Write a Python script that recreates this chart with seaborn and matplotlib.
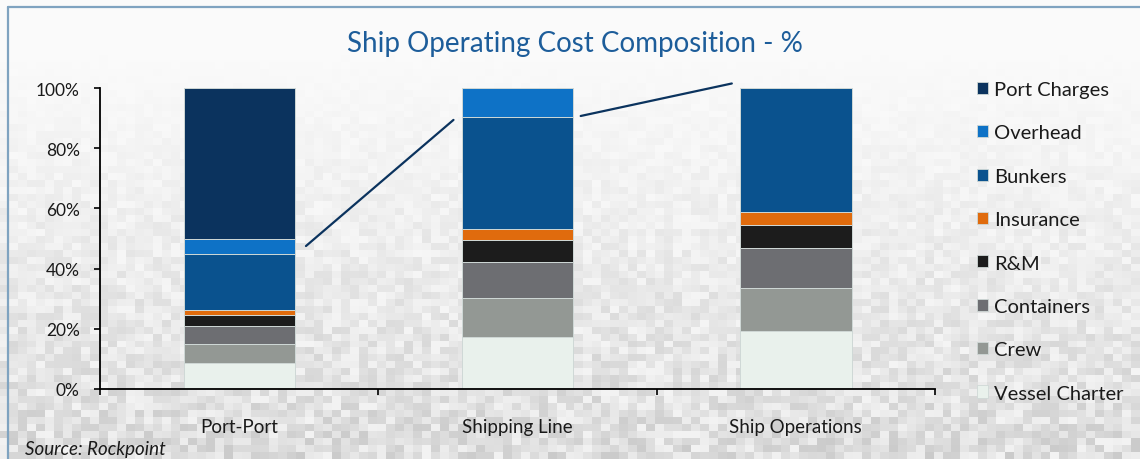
import numpy as np
import pandas as pd
import matplotlib
matplotlib.use("Agg")
import matplotlib.pyplot as plt
from matplotlib.patches import Patch
from matplotlib.lines import Line2D
import seaborn as sns

# ---- data -------------------------------------------------------------
categories = ["Port-Port", "Shipping Line", "Ship Operations"]
# stacked from the bottom up
components = ["Vessel Charter", "Crew", "Containers", "R&M",
              "Insurance", "Bunkers", "Overhead", "Port Charges"]
vessel_charter = [8.5, 17.3, 19.2]
crew = [6.5, 12.9, 14.4]
containers = [6.0, 12.1, 13.2]
r_and_m = [3.5, 7.1, 7.8]
insurance = [1.8, 3.7, 4.1]
bunkers = [18.7, 37.2, 41.3]
overhead = [5.0, 9.7, 0.0]
port_charges = [50.0, 0.0, 0.0]
y_ticks = [0, 20, 40, 60, 80, 100]
y_tick_labels = ["0%", "20%", "40%", "60%", "80%", "100%"]

series = [vessel_charter, crew, containers, r_and_m,
          insurance, bunkers, overhead, port_charges]
colors = ["#E9F1EC", "#939894", "#6D6E72", "#1C1C1C",
          "#E06B0D", "#0A528E", "#0E72C6", "#0B335E"]

df = pd.DataFrame({name: vals for name, vals in zip(components, series)},
                  index=categories)
df.index.name = "category"

# ---- styling ----------------------------------------------------------
sns.set_theme(style="white")
plt.rcParams["font.family"] = ["Lato", "DejaVu Sans"]

W, H = 1140, 460
fig = plt.figure(figsize=(W / 100, H / 100), dpi=100)

# textured backdrop: white at the top, mottled grey toward the bottom
bg = fig.add_axes([0, 0, 1, 1], zorder=-10)
cell_w, cell_h = 9, 7
ny, nx = H // cell_h + 1, W // cell_w + 1
jj, ii = np.meshgrid(np.arange(nx), np.arange(ny))
h = (np.sin(ii * 12.9898 + jj * 78.233) * 43758.5453) % 1.0
t = np.clip((ii * cell_h - 50) / 400.0, 0, 1)
val = 0.982 - 0.03 * t - 0.16 * t ** 1.15 * h
img = np.dstack([val, val, val])
bg.imshow(img, extent=[0, W, H, 0], interpolation="nearest", aspect="auto")
bg.set_xlim(0, W)
bg.set_ylim(H, 0)
bg.axis("off")

ax = fig.add_axes([100 / W, 1 - 390 / H, 835 / W, 301 / H])
ax.patch.set_alpha(0)

bottoms = np.zeros(len(categories))
for name, color in zip(components, colors):
    vals = df[name].to_numpy()
    sns.barplot(x=df.index, y=vals, order=categories, color=color,
                width=0.4, bottom=bottoms, edgecolor="#cfd8d6",
                linewidth=0.7, ax=ax, saturation=1)
    bottoms = bottoms + vals

ax.set_xlim(-0.5, 2.5)
ax.set_ylim(0, 100)
ax.set_xlabel("")
ax.set_ylabel("")

for s in ["top", "right"]:
    ax.spines[s].set_visible(False)
for s in ["left", "bottom"]:
    ax.spines[s].set_color("black")
    ax.spines[s].set_linewidth(1.3)

ax.set_yticks(y_ticks)
ax.set_yticklabels(y_tick_labels)
ax.tick_params(axis="y", direction="out", length=4.5, width=1.2,
               color="black", pad=10, labelsize=12.5, labelcolor="#1a1a1a",
               left=True)
ax.set_xticks(range(len(categories)))
ax.set_xticklabels(categories)
ax.set_xticks([-0.5, 0.5, 1.5, 2.5], minor=True)
ax.tick_params(axis="x", which="major", length=0, pad=21, labelsize=13.5,
               labelcolor="#1a1a1a")
ax.tick_params(axis="x", which="minor", direction="out", length=4.5,
               width=1.2, color="black", bottom=True)

# connector lines between stacks
line_kw = dict(color="#0B335E", lw=1.6, clip_on=False, zorder=5)
ax.plot([0.24, 0.77], [47.5, 89.4], **line_kw)
ax.plot([1.227, 1.77], [90.7, 101.5], **line_kw)

# legend, top entry first
handles = [Patch(facecolor=c, edgecolor="#cfd8d6", linewidth=0.6)
           for c in colors[::-1]]
fig.legend(handles, components[::-1], loc="upper left",
           bbox_to_anchor=(977 / W, 1 - 82 / H), frameon=False,
           fontsize=14.5, handlelength=0.55, handleheight=0.55,
           handletextpad=0.3, labelspacing=1.31, borderaxespad=0,
           borderpad=0, labelcolor="#1a1a1a")

fig.text(575 / W, 1 - 44 / H, "Ship Operating Cost Composition - %",
         ha="center", va="center", fontsize=20, color="#1D5D9A")
fig.text(25 / W, 1 - 450 / H, "Source: Rockpoint", ha="left",
         va="center", fontsize=13.5, style="italic", color="#1a1a1a")

# frame edges
fig.add_artist(Line2D([8 / W, 1], [1 - 7.5 / H, 1 - 7.5 / H],
                      transform=fig.transFigure, color="#7FA3C0", lw=1.6))
fig.add_artist(Line2D([8 / W, 8 / W], [0, 1 - 7.5 / H],
                      transform=fig.transFigure, color="#7FA3C0", lw=1.6))

fig.savefig("out.png", dpi=100)
